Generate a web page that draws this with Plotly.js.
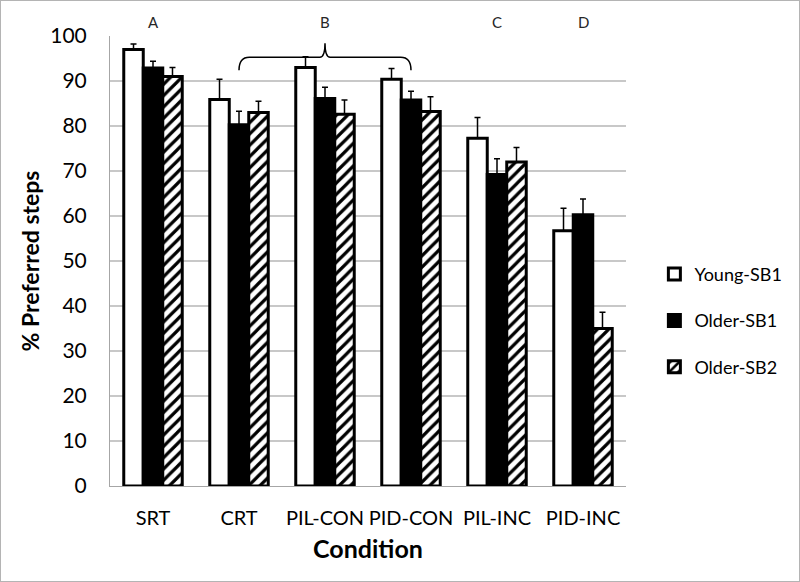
<!DOCTYPE html>
<html>
<head>
<meta charset="utf-8">
<script src="https://cdn.plot.ly/plotly-3.0.1.min.js"></script>
<style>
html,body{margin:0;padding:0;background:#fff;}
#chart{width:800px;height:582px;border:1px solid #b4b4b4;box-sizing:border-box;}
</style>
</head>
<body>
<div id="chart"></div>
<script>
const conditions = ["SRT", "CRT", "PIL-CON", "PID-CON", "PIL-INC", "PID-INC"];
const youngSB1 = [97.0, 85.9, 93.0, 90.4, 77.3, 56.7];
const youngSB1Err = [1.2, 4.5, 2.4, 2.4, 4.6, 5.0];
const olderSB1 = [92.9, 80.3, 86.1, 85.8, 69.2, 60.3];
const olderSB1Err = [1.5, 3.0, 2.5, 1.9, 3.5, 3.5];
const olderSB2 = [91.0, 83.0, 82.6, 83.2, 72.0, 35.0];
const olderSB2Err = [2.0, 2.5, 3.2, 3.3, 3.2, 3.6];
const groupLetters = ["A", "B", "C", "D"];
const letterAt = ["SRT", "PIL-CON", "PIL-INC", "PID-INC"];

const FONT = "Lato, 'Open Sans', sans-serif";

function errBar(arr) {
  return {type: "data", array: arr, arrayminus: arr.map(() => 0), symmetric: false,
          color: "#000", thickness: 1.5, width: 3};
}

const traces = [
  {type: "bar", name: "Young-SB1", x: conditions, y: youngSB1, legendgroup: "a",
   marker: {color: "#ffffff", line: {color: "#000", width: 3}},
   error_y: errBar(youngSB1Err)},
  {type: "bar", name: "Older-SB1", x: conditions, y: olderSB1, legendgroup: "b",
   marker: {color: "#000000", line: {color: "#000", width: 3}},
   error_y: errBar(olderSB1Err)},
  {type: "bar", name: "Older-SB2", x: conditions, y: olderSB2, legendgroup: "c",
   marker: {color: "#ffffff", line: {color: "#000", width: 3},
            pattern: {shape: "/", fgcolor: "#000", bgcolor: "#fff", size: 8, solidity: 0.4}},
   error_y: errBar(olderSB2Err)}
];

const annotations = groupLetters.map((t, i) => ({
  text: t, x: letterAt[i], xref: "x", y: 1.055, yref: "paper",
  showarrow: false, font: {family: FONT, size: 15, color: "#262626"}
}));

const brace = {
  type: "path", xref: "x", yref: "y",
  path: "M 1,92.4 Q 1,95.3 1.12,95.3 L 1.94,95.3 Q 2,95.3 2,98.4 Q 2,95.3 2.06,95.3 L 2.88,95.3 Q 3,95.3 3,92.4",
  line: {color: "#000", width: 1.5}
};

const layout = {
  width: 798, height: 580,
  margin: {l: 109, r: 160, t: 35, b: 95},
  paper_bgcolor: "#fff", plot_bgcolor: "#fff",
  barmode: "group", bargap: 0.32, bargroupgap: 0,
  font: {family: FONT, color: "#000"},
  showlegend: true,
  legend: {x: 1.055, y: 0.367, xanchor: "left", yanchor: "middle",
           font: {family: FONT, size: 18, color: "#000"},
           tracegroupgap: 20, traceorder: "grouped", itemwidth: 30},
  xaxis: {type: "category", showline: true, linecolor: "#a6a6a6", linewidth: 1,
          ticks: "outside", ticklen: 14, tickcolor: "rgba(0,0,0,0)",
          tickfont: {family: FONT, size: 20, color: "#000"},
          title: {text: "Condition", font: {family: FONT, size: 25, color: "#000", weight: "bold"}, standoff: 12}},
  yaxis: {range: [0, 100], dtick: 10, showline: true, linecolor: "#a6a6a6", linewidth: 1,
          gridcolor: "#c8c8c8", gridwidth: 1.3, zeroline: false,
          ticks: "outside", ticklen: 18, tickcolor: "rgba(0,0,0,0)",
          tickfont: {family: FONT, size: 21, color: "#000"},
          title: {text: "% Preferred steps", font: {family: FONT, size: 23, color: "#000", weight: "bold"}, standoff: 4}},
  annotations: annotations,
  shapes: [brace]
};

Plotly.newPlot("chart", traces, layout, {displayModeBar: false, staticPlot: true});
</script>
</body>
</html>
